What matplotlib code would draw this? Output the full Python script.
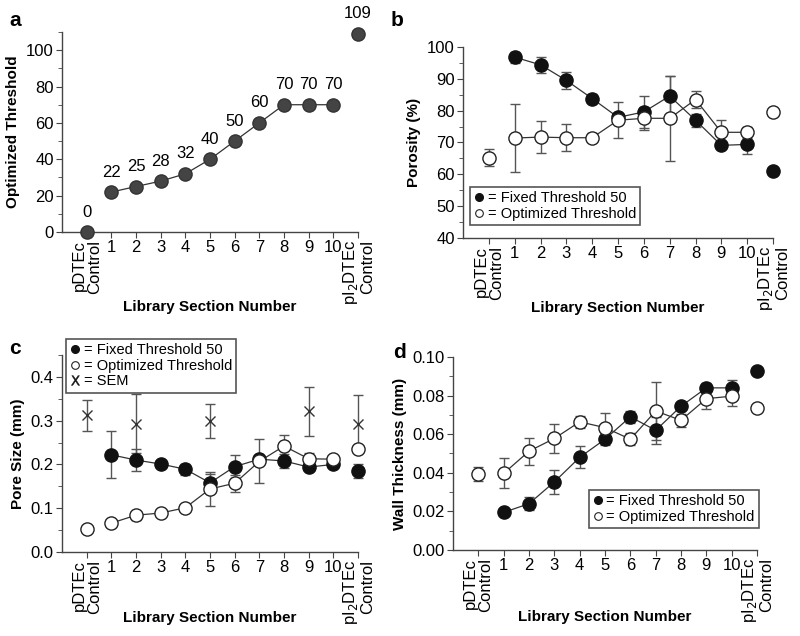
import numpy as np
import matplotlib
matplotlib.use('Agg')
from matplotlib import pyplot as plt
from matplotlib.lines import Line2D
from matplotlib.ticker import MultipleLocator

plt.rcParams['font.family'] = ['Liberation Sans', 'DejaVu Sans']
plt.rcParams['font.size'] = 10.5

nan = np.nan
positions = list(range(12))
tick_labels = ['pDTEc\nControl', '1', '2', '3', '4', '5', '6', '7', '8', '9', '10',
               'pI$_2$DTEc\nControl']

a_threshold = [0, 22, 25, 28, 32, 40, 50, 60, 70, 70, 70, 109]

b_fixed = [nan, 96.8, 94.4, 89.5, 83.8, 77.9, 79.6, 84.6, 77.0, 69.1, 69.4, 61.0]
b_fixed_err = [nan, 1.7, 2.6, 2.8, 1.4, 1.5, 5.0, 6.3, 2.1, 1.0, 3.0, 1.3]
b_opt = [65.2, 71.4, 71.7, 71.5, 71.5, 77.0, 77.6, 77.6, 83.5, 73.2, 73.2, 79.5]
b_opt_err = [2.7, 10.7, 5.0, 4.2, 1.5, 5.7, 3.7, 13.3, 2.7, 3.8, 1.7, 0]

c_fixed = [nan, 0.222, 0.210, 0.201, 0.189, 0.158, 0.195, 0.212, 0.208, 0.194, 0.200, 0.184]
c_fixed_err = [nan, 0.054, 0.025, 0.010, 0.012, 0.020, 0.026, 0.010, 0.015, 0.005, 0.008, 0.016]
c_opt = [0.052, 0.066, 0.084, 0.089, 0.101, 0.144, 0.157, 0.207, 0.242, 0.213, 0.212, 0.236]
c_opt_err = [0, 0.008, 0.010, 0.007, 0.004, 0.038, 0.020, 0.050, 0.025, 0.012, 0.005, 0]
sem_pos = [0, 2, 5, 9, 11]
sem_val = [0.312, 0.293, 0.299, 0.322, 0.293]
sem_err = [0.035, 0.067, 0.039, 0.056, 0.065]

d_fixed = [nan, 0.0195, 0.024, 0.0353, 0.048, 0.0574, 0.069, 0.062, 0.0745, 0.084, 0.084, 0.0926]
d_fixed_err = [nan, 0.002, 0.0035, 0.0063, 0.0057, 0.003, 0.003, 0.007, 0.0012, 0.0025, 0.0043, 0]
d_opt = [0.0393, 0.0397, 0.0512, 0.0578, 0.0664, 0.0634, 0.0574, 0.072, 0.0672, 0.0784, 0.0797, 0.0736]
d_opt_err = [0.0035, 0.0078, 0.007, 0.0073, 0.003, 0.0076, 0.003, 0.015, 0.0035, 0.0055, 0.0052, 0]

ms = 9.5
bar_col = '#555555'
line_col = '#333333'


def setup(ax, ylim, major, minor, fmt, ylabel, xlab_y):
    ax.set_xlim(-1, 11)
    ax.set_ylim(*ylim)
    for s in ['top', 'right']:
        ax.spines[s].set_visible(False)
    for s in ['left', 'bottom']:
        ax.spines[s].set_color('#444444')
        ax.spines[s].set_linewidth(1.0)
    ax.set_xticks(positions)
    ax.set_xticklabels(tick_labels)
    labs = ax.get_xticklabels()
    for lab in (labs[0], labs[-1]):
        lab.set_rotation(90)
        lab.set_multialignment('right')
        lab.set_va('top')
        lab.set_ha('center')
        lab.set_fontsize(11.5)
        lab.set_linespacing(1.0)
    ax.yaxis.set_major_locator(MultipleLocator(major))
    ax.yaxis.set_minor_locator(MultipleLocator(minor))
    ax.yaxis.set_major_formatter(fmt)
    ax.tick_params(direction='out', length=4, color='#444444', labelsize=12, pad=2)
    ax.tick_params(which='minor', length=3, color='#444444')
    ax.set_ylabel(ylabel, fontweight='bold', fontsize=11)
    ax.set_xlabel('Library Section Number', fontweight='bold', fontsize=11)
    ax.xaxis.set_label_coords(0.5, xlab_y)
    ax.xaxis.label.set_va('center')


def series(ax, y, err, filled):
    y = np.array(y, dtype=float)
    err = np.array(err, dtype=float)
    x = np.array(positions)
    eb = ax.errorbar(x, y, yerr=err, fmt='none', ecolor=bar_col, elinewidth=1, capsize=3.5,
                     capthick=1, zorder=2)
    for art in eb.get_children():
        art.set_clip_on(False)
    ax.plot(x[1:11], y[1:11], color=line_col, lw=0.9, zorder=3)
    if filled:
        ax.plot(x, y, 'o', ms=ms, mfc='#111111', mec='#111111', ls='none', zorder=4,
                clip_on=False)
    else:
        ax.plot(x, y, 'o', ms=ms, mfc='white', mec='#222222', mew=1, ls='none', zorder=5,
                clip_on=False)


def add_legend(ax, bbox, sem=False):
    h = [Line2D([], [], marker='o', ls='none', ms=5.5, mfc='#111111', mec='#111111'),
         Line2D([], [], marker='o', ls='none', ms=5.5, mfc='white', mec='#222222', mew=0.8)]
    labels = ['= Fixed Threshold 50', '= Optimized Threshold']
    if sem:
        h.append(Line2D([], [], marker=r'$\mathrm{X}$', ls='none', ms=7, color='#111111',
                        mew=0.3))
        labels.append('= SEM')
    leg = ax.legend(h, labels, loc='upper left', bbox_to_anchor=bbox,
                    bbox_transform=fig.transFigure, fontsize=10.5, frameon=True,
                    fancybox=False, framealpha=1, edgecolor='#555555', borderpad=0.3,
                    handlelength=0.7, handletextpad=0.2, labelspacing=0.1,
                    borderaxespad=0)
    leg.get_frame().set_linewidth(1.2)


fig = plt.figure(figsize=(8, 6.36), dpi=100)

# a
ax = fig.add_axes([0.0775, 0.6352, 0.37, 0.3145])
setup(ax, (0, 110), 20, 10, '{x:.0f}', 'Optimized Threshold', -0.375)
ax.plot(positions[1:11], a_threshold[1:11], color=line_col, lw=0.9, zorder=2)
ax.plot(positions, a_threshold, 'o', ms=ms, mfc='#444444', mec='#333333', ls='none', zorder=3,
        clip_on=False)
for x, v in zip(positions, a_threshold):
    ax.annotate(str(v), (x, v), xytext=(0, 9), textcoords='offset points', ha='center',
                va='bottom', fontsize=12, annotation_clip=False)
fig.text(0.012, 0.968, 'a', fontweight='bold', fontsize=15, va='center')

# b
ax = fig.add_axes([0.5788, 0.6258, 0.3875, 0.3003])
setup(ax, (40, 100), 10, 5, '{x:.0f}', 'Porosity (%)', -0.366)
series(ax, b_fixed, b_fixed_err, True)
series(ax, b_opt, b_opt_err, False)
add_legend(ax, (470 / 800, 1 - 187 / 636))
fig.text(0.488, 0.968, 'b', fontweight='bold', fontsize=15, va='center')

# c
ax = fig.add_axes([0.0775, 0.1321, 0.37, 0.3097])
setup(ax, (0, 0.45), 0.1, 0.05, '{x:.1f}', 'Pore Size (mm)', -0.335)
eb = ax.errorbar(sem_pos, sem_val, yerr=sem_err, fmt='x', color=bar_col, mec='#333333', ms=7,
                 mew=1, elinewidth=1, capsize=3.5, capthick=1, zorder=2)
for art in eb.get_children():
    art.set_clip_on(False)
series(ax, c_fixed, c_fixed_err, True)
series(ax, c_opt, c_opt_err, False)
add_legend(ax, (66 / 800, 1 - 339 / 636), sem=True)
fig.text(0.012, 1 - 348 / 636, 'c', fontweight='bold', fontsize=15, va='center')

# d
ax = fig.add_axes([0.5663, 0.1352, 0.38, 0.3035])
setup(ax, (0, 0.10), 0.02, 0.01, '{x:.2f}', 'Wall Thickness (mm)', -0.347)
series(ax, d_fixed, d_fixed_err, True)
series(ax, d_opt, d_opt_err, False)
add_legend(ax, (589 / 800, 1 - 490 / 636))
fig.text(0.491, 1 - 352 / 636, 'd', fontweight='bold', fontsize=15, va='center')

fig.savefig('out.png', dpi=100)
